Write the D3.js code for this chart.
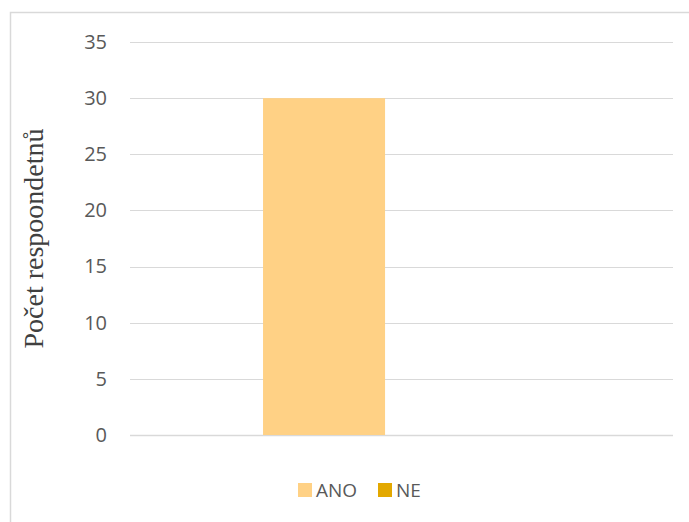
<!DOCTYPE html>
<html>
<head>
<meta charset="utf-8">
<script src="https://cdn.jsdelivr.net/npm/d3@7"></script>
<style>
  html, body { margin: 0; padding: 0; background: #fff; }
  svg { display: block; }
</style>
</head>
<body>
<svg id="chart" width="689" height="522"></svg>
<script>
// Survey answers: one category, two series
const categories = ["Odpověď"];
const seriesNames = ["ANO", "NE"];
const seriesValues = [30, 0];
const yTicks = [0, 5, 10, 15, 20, 25, 30, 35];
const colors = ["#FFD185", "#E3A800"];
const yTitle = "Počet respoondetnů";

const svg = d3.select("#chart");
const W = 689, H = 522;
const plot = { left: 130, right: 673, top: 42, bottom: 435 };

// outer chart frame
svg.append("rect")
  .attr("x", 10.5).attr("y", 12.5)
  .attr("width", W + 20).attr("height", H + 20)
  .attr("fill", "#fff").attr("stroke", "#D9D9D9").attr("stroke-width", 1.5);

const y = d3.scaleLinear().domain([0, 35]).range([plot.bottom, plot.top]);
const x0 = d3.scaleBand().domain(categories).range([plot.left, plot.right]);
const x1 = d3.scaleBand().domain(seriesNames)
  .range([0, x0.bandwidth()])
  .paddingInner(0).paddingOuter(1.225).align(0.445);

// gridlines
svg.append("g")
  .selectAll("line")
  .data(yTicks)
  .join("line")
  .attr("x1", plot.left).attr("x2", plot.right)
  .attr("y1", d => Math.round(y(d)) + 0.5).attr("y2", d => Math.round(y(d)) + 0.5)
  .attr("stroke", "#D9D9D9").attr("stroke-width", d => d === 0 ? 1.5 : 1);

// y axis labels
const yAxis = d3.axisLeft(y).tickValues(yTicks).tickSize(0).tickPadding(0);
const gy = svg.append("g").attr("transform", `translate(107,0)`).call(yAxis);
gy.select(".domain").remove();
gy.selectAll("text")
  .attr("font-family", "'Open Sans', sans-serif")
  .attr("font-size", 20)
  .attr("fill", "#595959");

// bars
const cat = svg.append("g").attr("transform", `translate(${x0(categories[0])},0)`);
cat.selectAll("rect")
  .data(seriesNames.map((s, i) => ({ s, v: seriesValues[i], c: colors[i] })))
  .join("rect")
  .attr("x", d => x1(d.s))
  .attr("width", x1.bandwidth())
  .attr("y", d => y(d.v))
  .attr("height", d => y(0) - y(d.v))
  .attr("fill", d => d.c);

// y title
svg.append("text")
  .attr("transform", `translate(43,${(plot.top + plot.bottom) / 2}) rotate(-90)`)
  .attr("text-anchor", "middle")
  .attr("font-family", "'Liberation Serif', 'Times New Roman', serif")
  .attr("font-size", 28)
  .attr("fill", "#404040")
  .text(yTitle);

// legend
const legend = svg.append("g").attr("transform", "translate(298,483)");
const items = legend.selectAll("g")
  .data(seriesNames.map((s, i) => ({ s, c: colors[i] })))
  .join("g")
  .attr("transform", (d, i) => `translate(${i * 80},0)`);
items.append("rect").attr("width", 14).attr("height", 14).attr("fill", d => d.c);
items.append("text")
  .attr("x", 18).attr("y", 14)
  .attr("font-family", "'Open Sans', sans-serif")
  .attr("font-size", 19)
  .attr("fill", "#595959")
  .text(d => d.s);
</script>
</body>
</html>
